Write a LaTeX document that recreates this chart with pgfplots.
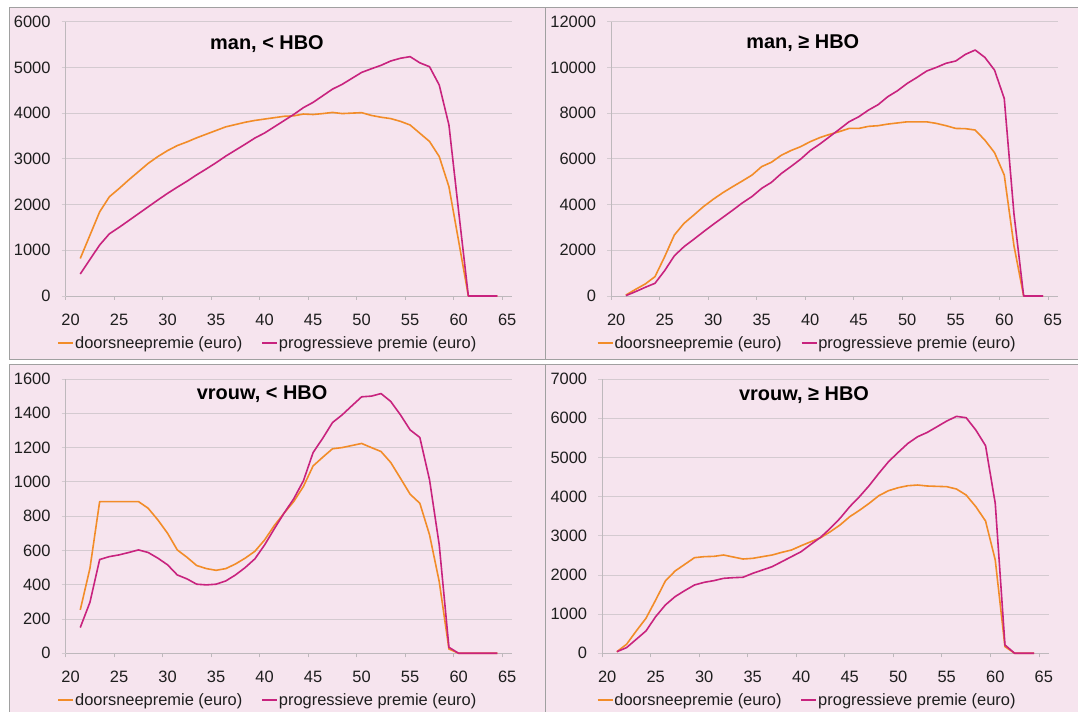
\documentclass[border=0pt]{standalone}
\usepackage{fontspec}
\setmainfont{Liberation Sans}
\usepackage{pgfplots}
\usepackage{pgfplotstable}
\pgfplotsset{compat=1.18}

\definecolor{panelbg}{RGB}{246,228,238}
\definecolor{panelframe}{RGB}{160,160,160}
\definecolor{gridc}{RGB}{212,202,208}
\definecolor{axisc}{RGB}{190,184,188}
\definecolor{doors}{RGB}{242,140,40}
\definecolor{progr}{RGB}{200,35,126}
\definecolor{txt}{RGB}{30,30,30}

% age, doorsneepremie, progressieve premie
\pgfplotstableread{
age d p
21 820 480
22 1330 800
23 1840 1115
24 2170 1360
25 2350 1500
26 2540 1650
27 2720 1800
28 2900 1950
29 3050 2100
30 3180 2245
31 3290 2380
32 3370 2510
33 3460 2650
34 3540 2780
35 3620 2915
36 3700 3060
37 3750 3190
38 3800 3320
39 3840 3455
40 3870 3565
41 3900 3700
42 3930 3835
43 3940 3970
44 3980 4120
45 3970 4235
46 3990 4380
47 4015 4525
48 3990 4630
49 4000 4760
50 4010 4890
51 3950 4970
52 3910 5045
53 3880 5140
54 3820 5200
55 3740 5235
56 3560 5100
57 3380 5015
58 3050 4615
59 2390 3740
60 1200 1850
61 0 0
62 0 0
63 0 0
64 0 0
}\manlow

\pgfplotstableread{
age d p
21 40 15
22 290 190
23 525 380
24 845 555
25 1720 1110
26 2670 1760
27 3180 2160
28 3540 2480
29 3910 2810
30 4230 3130
31 4520 3440
32 4780 3750
33 5030 4070
34 5290 4350
35 5660 4710
36 5850 4970
37 6150 5350
38 6360 5660
39 6530 5980
40 6750 6360
41 6930 6650
42 7070 6970
43 7190 7290
44 7330 7620
45 7330 7840
46 7420 8130
47 7450 8370
48 7520 8720
49 7570 8980
50 7620 9300
51 7620 9560
52 7620 9840
53 7550 10000
54 7450 10180
55 7330 10280
56 7320 10570
57 7260 10760
58 6820 10440
59 6270 9880
60 5290 8640
61 2200 3600
62 0 0
63 0 0
64 0 0
}\manhigh

\pgfplotstableread{
age d p
21 253 150
22 496 298
23 885 547
24 885 564
25 885 574
26 885 588
27 885 603
28 846 588
29 778 555
30 700 516
31 603 457
32 560 434
33 512 403
34 494 399
35 484 403
36 494 422
37 521 457
38 555 500
39 595 551
40 661 632
41 745 726
42 817 817
43 885 901
44 973 1006
45 1093 1171
46 1144 1255
47 1193 1346
48 1200 1391
49 1212 1444
50 1224 1496
51 1200 1500
52 1177 1515
53 1113 1469
54 1021 1391
55 928 1303
56 875 1259
57 691 1012
58 418 632
59 25 35
60 0 0
61 0 0
62 0 0
63 0 0
64 0 0
}\vrouwlow

\pgfplotstableread{
age d p
21 40 40
22 230 145
23 570 357
24 893 570
25 1360 935
26 1845 1233
27 2100 1446
28 2270 1600
29 2440 1743
30 2466 1811
31 2474 1854
32 2508 1913
33 2457 1930
34 2406 1940
35 2423 2040
36 2466 2125
37 2508 2210
38 2576 2338
39 2636 2466
40 2746 2594
41 2848 2780
42 2950 2960
43 3103 3190
44 3274 3444
45 3486 3741
46 3648 3996
47 3826 4277
48 4022 4592
49 4150 4890
50 4226 5128
51 4277 5357
52 4294 5527
53 4269 5638
54 4260 5782
55 4252 5927
56 4192 6046
57 4039 6012
58 3741 5697
59 3376 5298
60 2381 3826
61 170 213
62 0 0
63 0 0
64 0 0
}\vrouwhigh

\tikzset{ttl/.style={font=\bfseries\fontsize{20}{22}\selectfont, text=black}}

\pgfplotsset{
  panel/.style={
    scale only axis, width=446.3bp, height=274.3bp,
    anchor=south west, clip=false,
    xmin=19.5, xmax=65.5, ymin=0,
    axis x line*=bottom, axis y line*=left,
    axis line style={axisc, line width=0.8bp},
    tick align=outside,
    xtick={20,25,...,65},
    major x tick style={draw=none},
    minor xtick={19.5,24.5,...,64.5},
    minor x tick style={axisc, line width=0.8bp},
    minor tick length=4bp,
    major tick length=4bp,
    major y tick style={gridc, line width=0.8bp},
    ymajorgrids, grid style={gridc, line width=0.8bp},
    scaled y ticks=false,
    /pgf/number format/.cd, 1000 sep={}, assume math mode=true, /pgfplots/.cd,
    ticklabel style={font=\fontsize{16.5}{18}\selectfont, text=txt},
    xticklabel style={anchor=north, inner sep=0pt, yshift=-14bp},
    yticklabel style={anchor=east, inner sep=0pt, xshift=-11bp},
    legend columns=2,
    legend style={draw=none, fill=none, anchor=center,
      font=\fontsize{16.5}{18}\selectfont, text=txt,
      inner sep=0pt, nodes={inner sep=1bp},
      /tikz/every even column/.append style={column sep=18bp}},
    legend image code/.code={\draw[##1, line width=1.6bp] (0bp,0bp) -- (15bp,0bp);},
    every axis plot/.append style={line width=1.6bp, line join=round},
  },
}

\begin{document}
\begin{tikzpicture}[x=1bp, y=1bp]
\useasboundingbox (0,0) rectangle (1078,712);
\clip (0,0) rectangle (1078,712);
\fill[white] (0,0) rectangle (1078,712);
% panels
\filldraw[fill=panelbg, draw=panelframe, line width=1bp] (9,352) rectangle (545,704);
\filldraw[fill=panelbg, draw=panelframe, line width=1bp] (545,352) rectangle (1090,704);
\filldraw[fill=panelbg, draw=panelframe, line width=1bp] (9,-10) rectangle (545,347);
\filldraw[fill=panelbg, draw=panelframe, line width=1bp] (545,-10) rectangle (1090,347);

\begin{axis}[panel, at={(65.7bp,416bp)}, ymax=6000, ytick={0,1000,...,6000},
  legend style={at={(0.452,-0.171)}}]
\addplot[doors] table[x=age, y=d] {\manlow};
\addplot[progr] table[x=age, y=p] {\manlow};
\legend{doorsneepremie (euro), progressieve premie (euro)}
\node[ttl] at (axis description cs:0.451,0.919) {man, < HBO};
\end{axis}

\begin{axis}[panel, at={(611.3bp,416bp)}, ymax=12000, ytick={0,2000,...,12000},
  legend style={at={(0.438,-0.171)}}]
\addplot[doors] table[x=age, y=d] {\manhigh};
\addplot[progr] table[x=age, y=p] {\manhigh};
\legend{doorsneepremie (euro), progressieve premie (euro)}
\node[ttl] at (axis description cs:0.429,0.922) {man, ≥ HBO};
\end{axis}

\begin{axis}[panel, at={(65.7bp,58.7bp)}, ymax=1600, ytick={0,200,...,1600},
  legend style={at={(0.452,-0.170)}}]
\addplot[doors] table[x=age, y=d] {\vrouwlow};
\addplot[progr] table[x=age, y=p] {\vrouwlow};
\legend{doorsneepremie (euro), progressieve premie (euro)}
\node[ttl] at (axis description cs:0.44,0.945) {vrouw, < HBO};
\end{axis}

\begin{axis}[panel, at={(602.3bp,58.7bp)}, ymax=7000, ytick={0,1000,...,7000},
  legend style={at={(0.458,-0.170)}}]
\addplot[doors] table[x=age, y=d] {\vrouwhigh};
\addplot[progr] table[x=age, y=p] {\vrouwhigh};
\legend{doorsneepremie (euro), progressieve premie (euro)}
\node[ttl] at (axis description cs:0.452,0.942) {vrouw, ≥ HBO};
\end{axis}
\end{tikzpicture}
\end{document}
